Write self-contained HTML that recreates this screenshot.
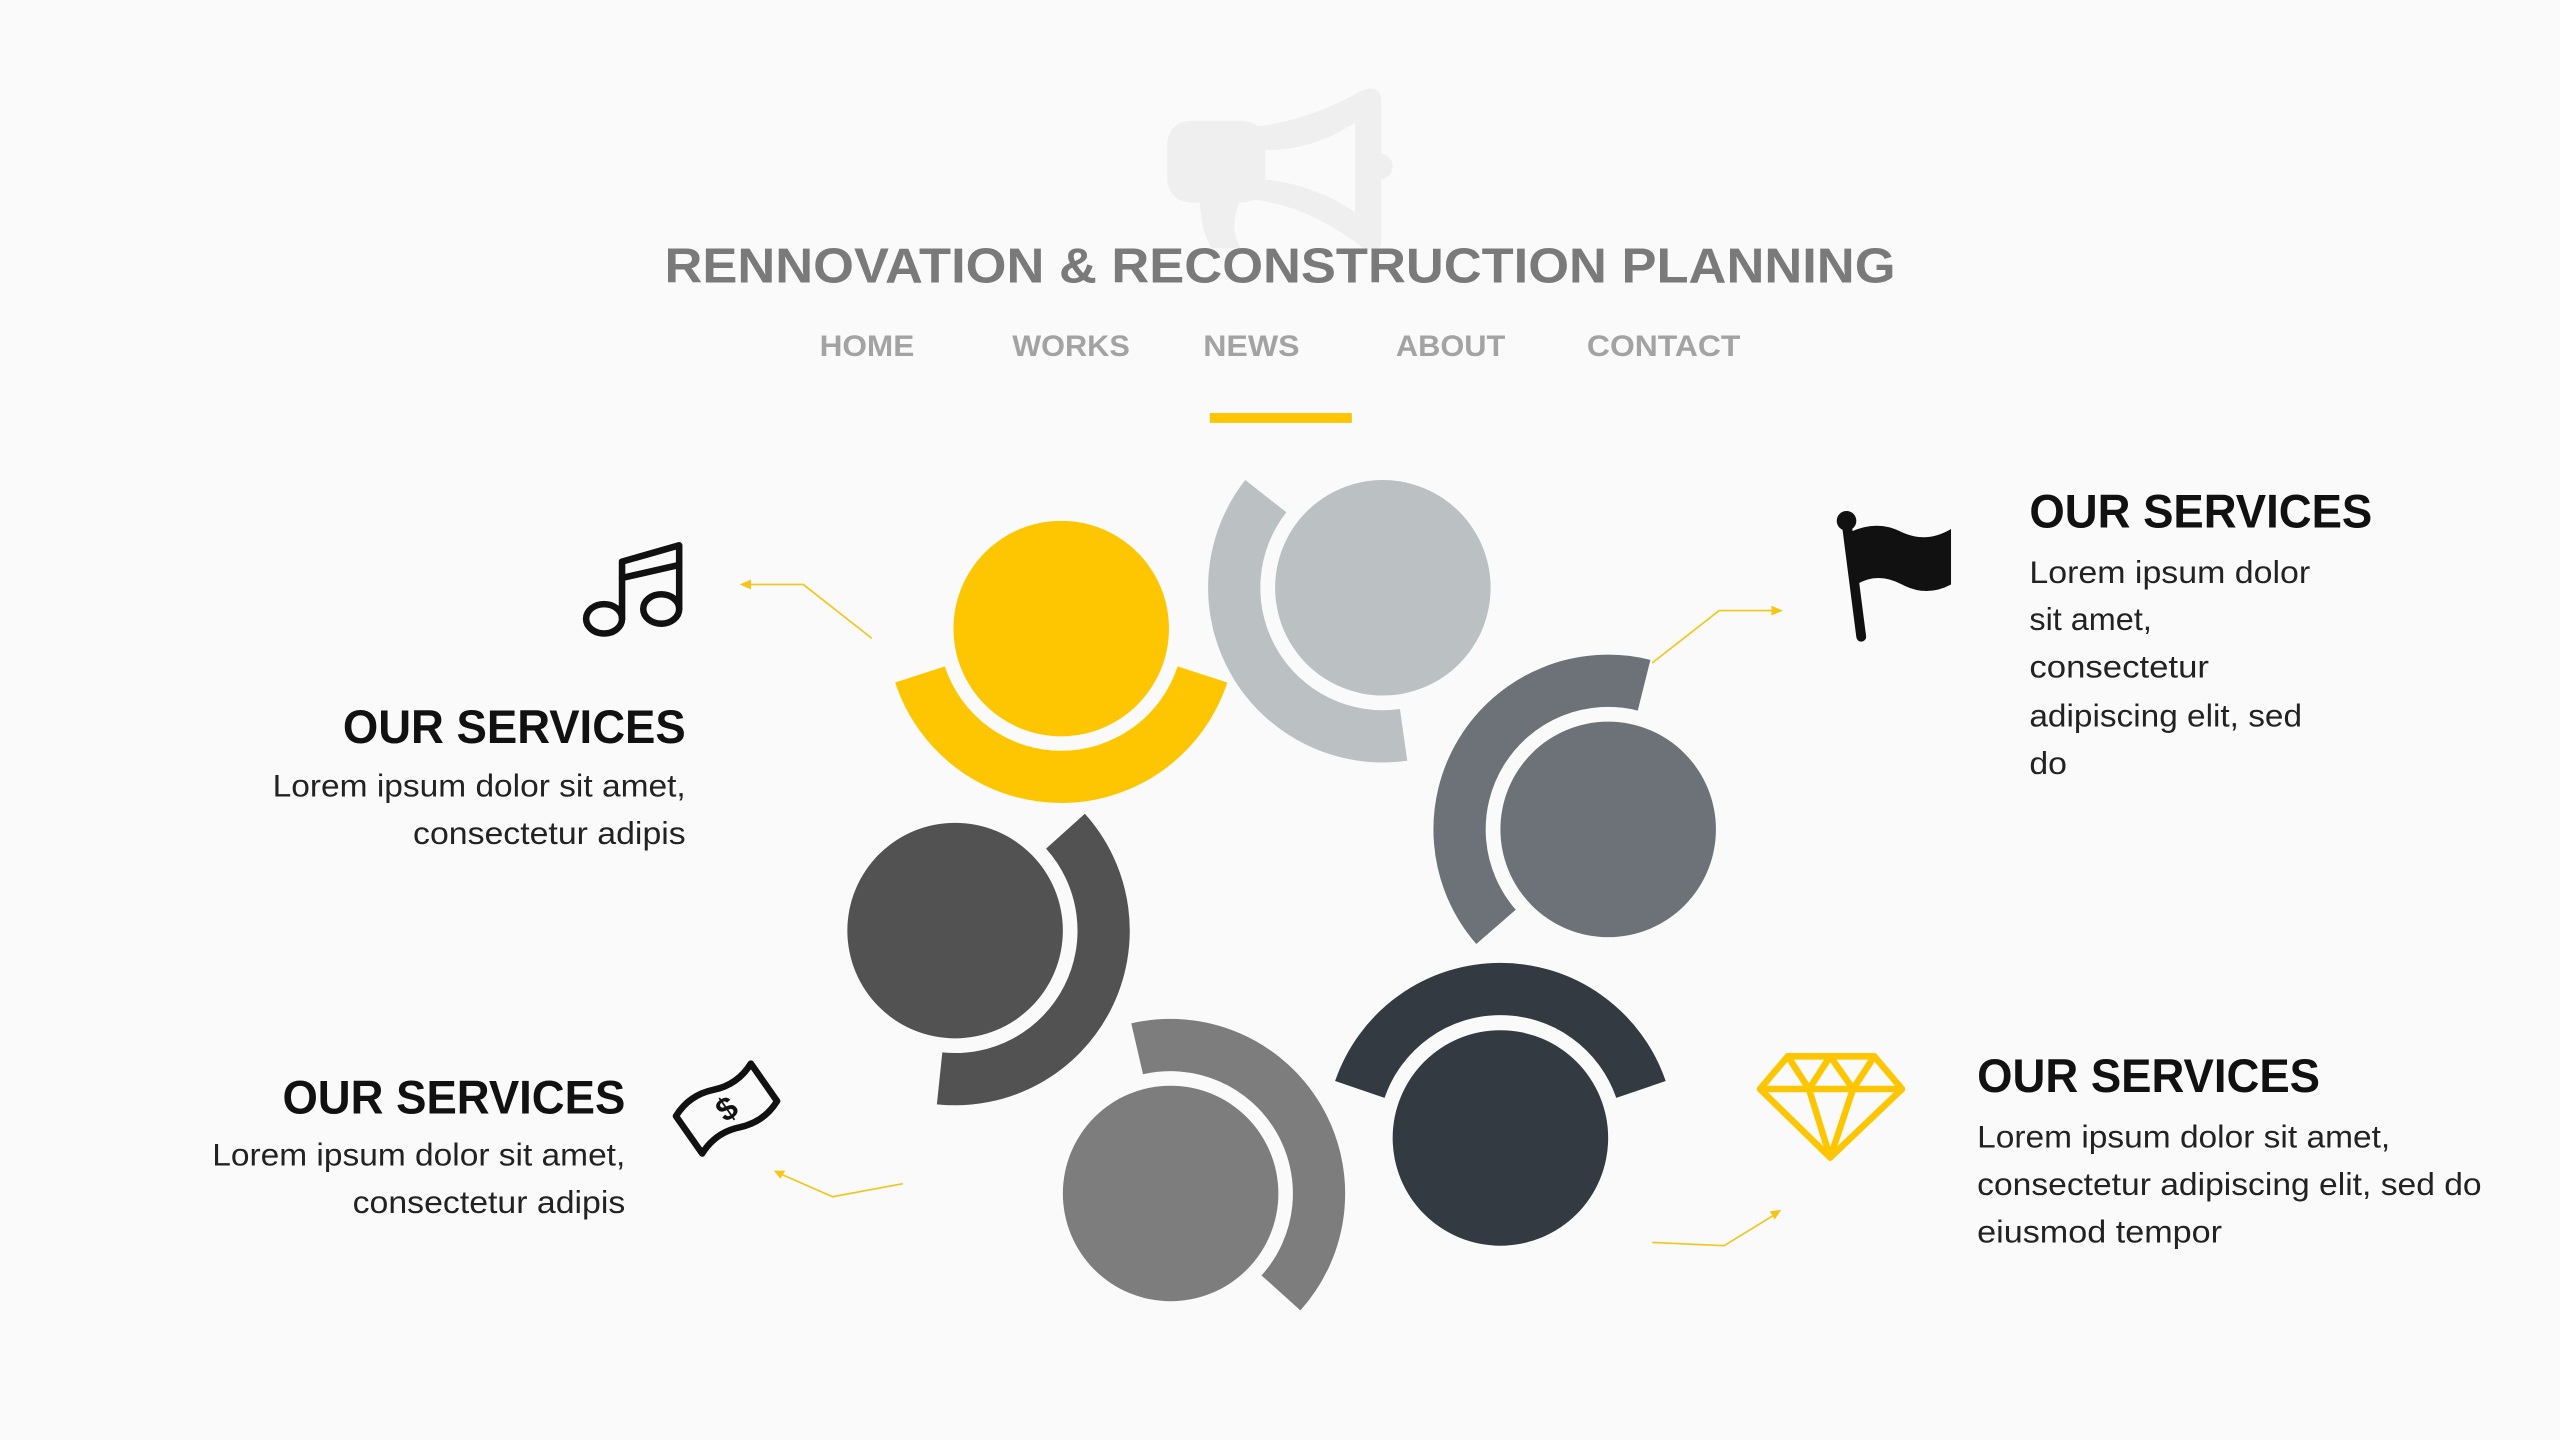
<!DOCTYPE html>
<html><head><meta charset="utf-8"><style>
html,body{margin:0;padding:0;background:#fafafa;}
svg{display:block;}
text{font-family:"Liberation Sans",sans-serif;}
</style></head><body>
<svg width="2560" height="1440" viewBox="0 0 1568 882" xmlns="http://www.w3.org/2000/svg">
<rect width="1568" height="882" fill="#fafafa"/>
<!-- megaphone -->
<g fill="#efefef" stroke="none">
<rect x="715" y="74" width="60" height="50" rx="14"/>
<path d="M765 78 Q800 75 835 55 Q846 52 846 62 L846 148 Q846 156 835 152 Q800 125 765 122 Z M775 92 L775 110 Q805 113 830 130 L830 75 Q805 92 775 92 Z" fill-rule="evenodd"/>
<circle cx="845" cy="102" r="8"/>
<path d="M735 122 L760 122 Q752 140 760 152 L742 152 Q735 140 735 122 Z"/>
</g>
<text x="784" y="173" text-anchor="middle" font-size="30" font-weight="bold" fill="#7a7a7a" textLength="754" lengthAdjust="spacingAndGlyphs">RENNOVATION &amp; RECONSTRUCTION PLANNING</text>
<g font-size="18" font-weight="bold" fill="#a3a3a3">
<text x="502" y="218" textLength="58" lengthAdjust="spacingAndGlyphs">HOME</text>
<text x="620" y="218" textLength="72" lengthAdjust="spacingAndGlyphs">WORKS</text>
<text x="737" y="218" textLength="59" lengthAdjust="spacingAndGlyphs">NEWS</text>
<text x="855" y="218" textLength="67" lengthAdjust="spacingAndGlyphs">ABOUT</text>
<text x="972" y="218" textLength="94" lengthAdjust="spacingAndGlyphs">CONTACT</text>
</g>
<rect x="741" y="253" width="87" height="6" fill="#fdc500"/>

<!-- arcs & circles -->
<g fill="none" stroke-width="32">
<path d="M736.5 413.1 A91 91 0 0 1 563.5 413.1" stroke="#fec601"/>
<path d="M859.7 450.1 A91 91 0 0 1 775.3 303.9" stroke="#bbc0c2"/>
<path d="M916.3 567.7 A91 91 0 0 1 1007.0 419.7" stroke="#6c7278"/>
<path d="M832.9 667.3 A91 91 0 0 1 1005.1 667.3" stroke="#333a42"/>
<path d="M696.5 642.4 A91 91 0 0 1 784.6 791.9" stroke="#7d7d7d"/>
<path d="M652.6 509.1 A91 91 0 0 1 575.5 660.5" stroke="#525252"/>
</g>
<circle cx="650" cy="385" r="66" fill="#fec601"/>
<circle cx="847" cy="360" r="66" fill="#bbc0c2"/>
<circle cx="985" cy="508" r="66" fill="#6c7278"/>
<circle cx="919" cy="697" r="66" fill="#333a42"/>
<circle cx="717" cy="731" r="66" fill="#7d7d7d"/>
<circle cx="585" cy="570" r="66" fill="#525252"/>

<!-- connectors -->
<g fill="none" stroke="#f5c518" stroke-width="1">
<polyline points="534,391 492,358 458,358"/>
<polyline points="1012,406 1053,374 1088,374"/>
<polyline points="553,725 510,733 478,719"/>
<polyline points="1012,761 1056,763 1087,744"/>
</g>
<g fill="#f5c518">
<polygon points="453,358 460,355 460,361"/>
<polygon points="1092,374 1085,371 1085,377"/>
<polygon points="474,717 481,717 478,722"/>
<polygon points="1091,741 1084,742 1087,747"/>
</g>

<!-- music icon -->
<g fill="none" stroke="#111" stroke-width="4" stroke-linecap="round" stroke-linejoin="round">
<ellipse cx="370" cy="379" rx="11" ry="9"/>
<ellipse cx="405" cy="373" rx="11" ry="9"/>
<path d="M381 379 L381 344 L416 334 L416 373"/>
<path d="M381 354 L416 346"/>
</g>
<!-- money icon -->
<g transform="translate(445,679) rotate(-35)" fill="none" stroke="#111" stroke-width="4" stroke-linejoin="round">
<path d="M-28 -14 Q-14 -20 0 -14 Q14 -8 28 -14 L28 14 Q14 20 0 14 Q-14 8 -28 14 Z"/>
<text x="0" y="7" text-anchor="middle" font-size="20" font-weight="bold" fill="#111" stroke="none">$</text>
</g>
<!-- flag icon -->
<line x1="1131" y1="320" x2="1140" y2="390" stroke="#111" stroke-width="6" stroke-linecap="round"/>
<circle cx="1131" cy="319" r="6" fill="#111"/>
<path d="M1133 326 Q1150 318 1165 326 Q1180 333 1195 324 L1195 358 Q1180 366 1165 358 Q1150 350 1137 358 Z" fill="#111"/>
<!-- diamond icon -->
<g fill="none" stroke="#fec601" stroke-width="4" stroke-linejoin="round">
<path d="M1078 667 L1095 647 L1148 647 L1165 667 L1121 709 Z"/>
<path d="M1078 667 L1165 667 M1095 647 L1108 667 L1121 647 L1135 667 L1148 647 M1108 667 L1121 709 L1135 667"/>
</g>

<!-- text blocks -->
<g fill="#111" font-weight="bold" font-size="29">
<text x="420" y="455" text-anchor="end" textLength="210" lengthAdjust="spacingAndGlyphs">OUR SERVICES</text>
<text x="383" y="682" text-anchor="end" textLength="210" lengthAdjust="spacingAndGlyphs">OUR SERVICES</text>
<text x="1243" y="323" textLength="210" lengthAdjust="spacingAndGlyphs">OUR SERVICES</text>
<text x="1211" y="669" textLength="210" lengthAdjust="spacingAndGlyphs">OUR SERVICES</text>
</g>
<g fill="#222" font-size="19">
<text x="420" y="488" text-anchor="end" textLength="253" lengthAdjust="spacingAndGlyphs">Lorem ipsum dolor sit amet,</text>
<text x="420" y="517" text-anchor="end" textLength="167" lengthAdjust="spacingAndGlyphs">consectetur adipis</text>
<text x="383" y="714" text-anchor="end" textLength="253" lengthAdjust="spacingAndGlyphs">Lorem ipsum dolor sit amet,</text>
<text x="383" y="743" text-anchor="end" textLength="167" lengthAdjust="spacingAndGlyphs">consectetur adipis</text>
<text x="1243" y="357" textLength="172" lengthAdjust="spacingAndGlyphs">Lorem ipsum dolor</text>
<text x="1243" y="386" textLength="75" lengthAdjust="spacingAndGlyphs">sit amet,</text>
<text x="1243" y="415" textLength="110" lengthAdjust="spacingAndGlyphs">consectetur</text>
<text x="1243" y="445" textLength="167" lengthAdjust="spacingAndGlyphs">adipiscing elit, sed</text>
<text x="1243" y="474" textLength="23" lengthAdjust="spacingAndGlyphs">do</text>
<text x="1211" y="703" textLength="253" lengthAdjust="spacingAndGlyphs">Lorem ipsum dolor sit amet,</text>
<text x="1211" y="732" textLength="309" lengthAdjust="spacingAndGlyphs">consectetur adipiscing elit, sed do</text>
<text x="1211" y="761" textLength="150" lengthAdjust="spacingAndGlyphs">eiusmod tempor</text>
</g>
</svg>
</body></html>
